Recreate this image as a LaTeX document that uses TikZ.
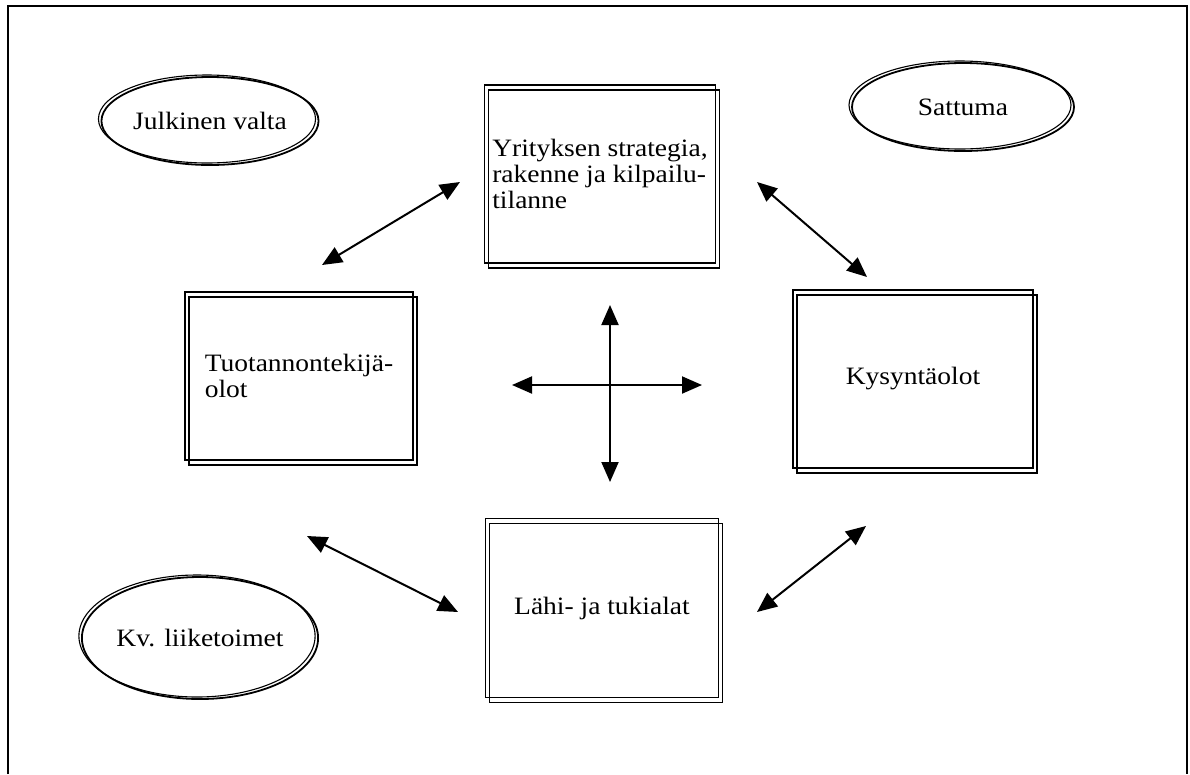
\documentclass[tikz,border=0pt]{standalone}
\usepackage{fontspec}
\setmainfont{Liberation Serif}[FakeStretch=1.1]
\usetikzlibrary{arrows.meta,shapes.geometric}

\begin{document}
\begin{tikzpicture}[
  x=1pt, y=-1pt,
  every node/.style = {font=\fontsize{25}{26}\selectfont, align=left, inner sep=0pt},
  Laatikko/.style = {draw, line width=1.8pt, rectangle,
    postaction={draw, line width=1.1pt, transform canvas={shift={(4pt,-5pt)}}}},
  Soikio/.style = {draw, line width=1.8pt, ellipse,
    postaction={draw, line width=1.1pt, transform canvas={shift={(-3pt,2pt)}}}},
  Nuoli/.style = {line width=2pt,
    {Triangle[length=20pt,width=17pt]}-{Triangle[length=20pt,width=17pt]}}
  ]
  \useasboundingbox (0,0) rectangle (1190,774);
  \draw[line width=2.2pt] (8,774) -- (8,6) -- (1187,6) -- (1187,774);

  % laatikot
  \node[Laatikko, minimum width=231pt, minimum height=178pt] (yr) at (600,174)
    {Yrityksen strategia,\\rakenne ja kilpailu-\\tilanne};
  \node[Laatikko, minimum width=228pt, minimum height=168pt] (tu) at (299,376)
    {Tuotannontekijä-\\olot};
  \node[Laatikko, minimum width=240pt, minimum height=178pt] (ky) at (913,379)
    {Kysyntäolot};
  \node[Laatikko, minimum width=233pt, minimum height=179pt] (la) at (602,608)
    {Lähi- ja tukialat};

  % soikiot
  \node[Soikio, minimum width=216pt, minimum height=88pt] (jv) at (210,121) {Julkinen valta};
  \node[Soikio, minimum width=222pt, minimum height=88pt] (sa) at (963,107) {Sattuma};
  \node[Soikio, minimum width=228pt, minimum height=122pt] (kv) at (200,638) {Kv. liiketoimet};

  % nuolten päät
  \coordinate (tu-yr) at (322,265);
  \coordinate (yr-tu) at (460,182);
  \coordinate (yr-ky) at (757,182);
  \coordinate (ky-yr) at (867,277);
  \coordinate (tu-la) at (307,536);
  \coordinate (la-tu) at (458,612);
  \coordinate (la-ky) at (757,612);
  \coordinate (ky-la) at (866,526);
  \coordinate (ylos) at (610,305);
  \coordinate (alas) at (610,482);
  \coordinate (vasen) at (512,385);
  \coordinate (oikea) at (702,385);

  \draw[Nuoli] (tu-yr) -- (yr-tu);
  \draw[Nuoli] (yr-ky) -- (ky-yr);
  \draw[Nuoli] (tu-la) -- (la-tu);
  \draw[Nuoli] (la-ky) -- (ky-la);
  \draw[Nuoli] (ylos) -- (alas);
  \draw[Nuoli] (vasen) -- (oikea);
\end{tikzpicture}
\end{document}
